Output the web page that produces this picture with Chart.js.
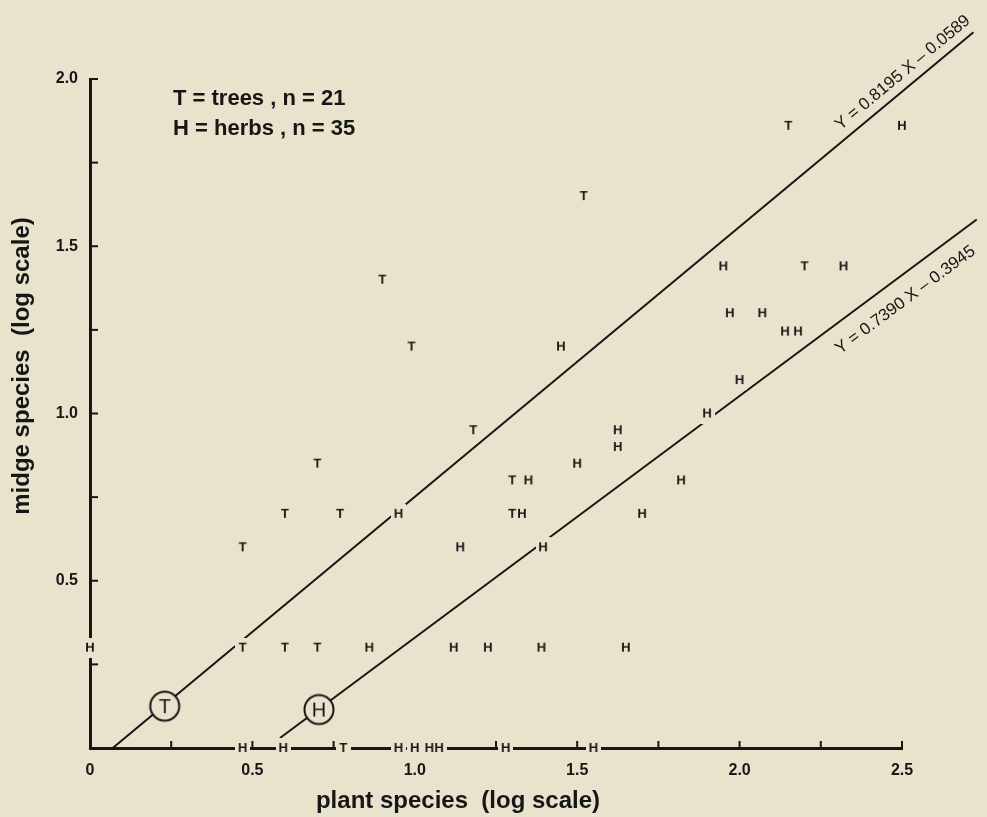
<!DOCTYPE html>
<html>
<head>
<meta charset="utf-8">
<script src="https://cdn.jsdelivr.net/npm/chart.js@4.4.1/dist/chart.umd.min.js"></script>
<style>
  html, body { margin: 0; padding: 0; background: #e9e2cc; }
  #wrap { width: 987px; height: 817px; }
</style>
</head>
<body>
<div id="wrap"><canvas id="midgeChart" width="987" height="817"></canvas></div>
<script>
// Midge species vs plant species, both log10
const treesX = [2.15, 1.52, 0.90, 0.99, 1.18, 0.70, 0.60, 0.77, 0.47, 1.30, 1.30, 2.20, 0.47, 0.60, 0.70, 0.78];
const treesY = [1.86, 1.65, 1.40, 1.20, 0.95, 0.85, 0.70, 0.70, 0.60, 0.80, 0.70, 1.44, 0.30, 0.30, 0.30, 0.00];

const herbsX = [2.50, 1.95, 2.32, 1.97, 2.07, 2.14, 2.18, 2.00, 1.90, 1.45, 1.625, 1.625, 1.50, 1.35, 1.33,
                1.82, 1.70, 0.95, 1.14, 1.395, 0.00, 0.86, 1.12, 1.225, 1.39, 1.65,
                0.47, 0.595, 0.95, 1.00, 1.045, 1.075, 1.28, 1.55];
const herbsY = [1.86, 1.44, 1.44, 1.30, 1.30, 1.245, 1.245, 1.10, 1.00, 1.20, 0.95, 0.90, 0.85, 0.80, 0.70,
                0.80, 0.70, 0.70, 0.60, 0.60, 0.30, 0.30, 0.30, 0.30, 0.30, 0.30,
                0.00, 0.00, 0.00, 0.00, 0.00, 0.00, 0.00, 0.00];

// fitted regression lines, end points as drawn
const treesLineX = [0.07, 2.72];
const treesLineY = [0.00, 2.14];
const herbsLineX = [0.585, 2.73];
const herbsLineY = [0.03, 1.58];

// circled group markers sitting on each line
const circleX = [0.23, 0.705];
const circleY = [0.125, 0.115];
const circleText = ['T', 'H'];

const legendLines = ['T = trees , n = 21', 'H = herbs , n = 35'];
const equations = ['Y = 0.8195 X \u2013 0.0589', 'Y = 0.7390 X \u2013 0.3945'];

const xTickLabels = ['0', '0.5', '1.0', '1.5', '2.0', '2.5'];
const yTickLabels = ['', '0.5', '1.0', '1.5', '2.0'];

const BG = '#e9e2cc';
const INK = '#161616';
const FONT = "'Liberation Sans', Arial, sans-serif";

// small canvases used as point styles
function letterCanvas(ch) {
    const c = document.createElement('canvas');
    c.width = 16; c.height = 16;
    const g = c.getContext('2d');
    g.fillStyle = INK;
    g.font = `bold 13px ${FONT}`;
    g.textAlign = 'center';
    g.textBaseline = 'middle';
    g.fillText(ch, 8, 8.5);
    return c;
}
function boxCanvas() {
    const c = document.createElement('canvas');
    c.width = 15; c.height = 20;
    const g = c.getContext('2d');
    g.fillStyle = BG;
    g.fillRect(0, 0, 15, 20);
    return c;
}
function circleCanvas(ch) {
    const c = document.createElement('canvas');
    c.width = 36; c.height = 36;
    const g = c.getContext('2d');
    g.fillStyle = BG;
    g.strokeStyle = INK;
    g.lineWidth = 2;
    g.beginPath();
    g.arc(18, 18, 14.5, 0, Math.PI * 2);
    g.fill();
    g.stroke();
    g.fillStyle = INK;
    g.font = `20px ${FONT}`;
    g.textAlign = 'center';
    g.textBaseline = 'middle';
    g.fillText(ch, 18, 19);
    return c;
}

const toPoints = (xs, ys) => xs.map((x, i) => ({ x: x, y: ys[i] }));

const boxImg = boxCanvas();

// background, inward tick marks, legend text, axis titles, equation labels
const decorPlugin = {
    id: 'decor',
    beforeDraw(chart) {
        const ctx = chart.ctx;
        ctx.save();
        ctx.fillStyle = BG;
        ctx.fillRect(0, 0, chart.width, chart.height);
        ctx.restore();
    },
    beforeDatasetsDraw(chart) {
        const { ctx, chartArea, scales } = chart;
        ctx.save();
        ctx.strokeStyle = INK;
        ctx.lineWidth = 2;
        scales.x.ticks.forEach(t => {
            if (t.value === 0) return;
            const px = scales.x.getPixelForValue(t.value);
            ctx.beginPath();
            ctx.moveTo(px, chartArea.bottom);
            ctx.lineTo(px, chartArea.bottom - 7);
            ctx.stroke();
        });
        scales.y.ticks.forEach(t => {
            if (t.value === 0) return;
            const py = scales.y.getPixelForValue(t.value);
            ctx.beginPath();
            ctx.moveTo(chartArea.left, py);
            ctx.lineTo(chartArea.left + 8, py);
            ctx.stroke();
        });
        ctx.restore();
    },
    afterDatasetsDraw(chart) {
        const { ctx, scales } = chart;
        ctx.save();
        ctx.fillStyle = INK;

        // legend
        ctx.font = `bold 22px ${FONT}`;
        ctx.textAlign = 'left';
        ctx.textBaseline = 'alphabetic';
        ctx.fillText(legendLines[0], 173, 105);
        ctx.fillText(legendLines[1], 173, 135);

        // axis titles
        ctx.font = `bold 24px ${FONT}`;
        ctx.textAlign = 'center';
        ctx.fillText('plant species  (log scale)', 458, 808);
        ctx.save();
        ctx.translate(29, 366);
        ctx.rotate(-Math.PI / 2);
        ctx.fillText('midge species  (log scale)', 0, 0);
        ctx.restore();

        // equation labels along the fitted lines
        const lines = [[treesLineX, treesLineY, 2.53, -14], [herbsLineX, herbsLineY, 2.47, 22]];
        ctx.font = `17px ${FONT}`;
        ctx.textBaseline = 'middle';
        lines.forEach(([lx, ly, at, off], i) => {
            const x0 = scales.x.getPixelForValue(lx[0]), y0 = scales.y.getPixelForValue(ly[0]);
            const x1 = scales.x.getPixelForValue(lx[1]), y1 = scales.y.getPixelForValue(ly[1]);
            const ang = Math.atan2(y1 - y0, x1 - x0);
            const yv = ly[0] + (ly[1] - ly[0]) * (at - lx[0]) / (lx[1] - lx[0]);
            const fx = scales.x.getPixelForValue(at), fy = scales.y.getPixelForValue(yv);
            const cx = fx - Math.sin(ang) * off, cy = fy + Math.cos(ang) * off;
            ctx.save();
            ctx.translate(cx, cy);
            ctx.rotate(ang);
            ctx.fillText(equations[i], 0, 0);
            ctx.restore();
        });
        ctx.restore();
    }
};

const lineStyle = { type: 'line', borderColor: INK, borderWidth: 2, pointRadius: 0, fill: false, clip: false, order: 5 };

new Chart(document.getElementById('midgeChart'), {
    type: 'scatter',
    data: {
        datasets: [
            { ...lineStyle, label: 'trees fit', data: toPoints(treesLineX, treesLineY) },
            { ...lineStyle, label: 'herbs fit', data: toPoints(herbsLineX, herbsLineY) },
            // background boxes that break lines and axes around each letter
            { label: 'tree boxes', data: toPoints(treesX, treesY), pointStyle: boxImg, clip: false, order: 4 },
            { label: 'herb boxes', data: toPoints(herbsX, herbsY), pointStyle: boxImg, clip: false, order: 4 },
            { label: 'trees', data: toPoints(treesX, treesY), pointStyle: letterCanvas('T'), clip: false, order: 2 },
            { label: 'herbs', data: toPoints(herbsX, herbsY), pointStyle: letterCanvas('H'), clip: false, order: 2 },
            { label: 'groups', data: toPoints(circleX, circleY), pointStyle: circleText.map(circleCanvas), clip: false, order: 1 }
        ]
    },
    options: {
        responsive: false,
        animation: false,
        events: [],
        layout: { padding: { left: 0, top: 79, right: 85, bottom: 0 } },
        plugins: { legend: { display: false }, tooltip: { enabled: false } },
        scales: {
            x: {
                type: 'linear', min: 0, max: 2.5,
                afterFit: s => { s.height = 69; },
                grid: { display: true, drawOnChartArea: false, drawTicks: false },
                border: { display: true, color: INK, width: 3 },
                ticks: {
                    stepSize: 0.25, padding: 13, color: INK,
                    font: { family: FONT, size: 16, weight: 'bold' },
                    maxRotation: 0, autoSkip: false,
                    callback: v => Math.abs(v * 2 - Math.round(v * 2)) < 1e-6 ? xTickLabels[Math.round(v * 2)] : ''
                }
            },
            y: {
                type: 'linear', min: 0, max: 2,
                afterFit: s => { s.width = 90; },
                grid: { display: true, drawOnChartArea: false, drawTicks: false },
                border: { display: true, color: INK, width: 3 },
                ticks: {
                    stepSize: 0.25, padding: 12, color: INK,
                    font: { family: FONT, size: 16, weight: 'bold' },
                    autoSkip: false,
                    callback: v => Math.abs(v * 2 - Math.round(v * 2)) < 1e-6 ? yTickLabels[Math.round(v * 2)] : ''
                }
            }
        }
    },
    plugins: [decorPlugin]
});
</script>
</body>
</html>
